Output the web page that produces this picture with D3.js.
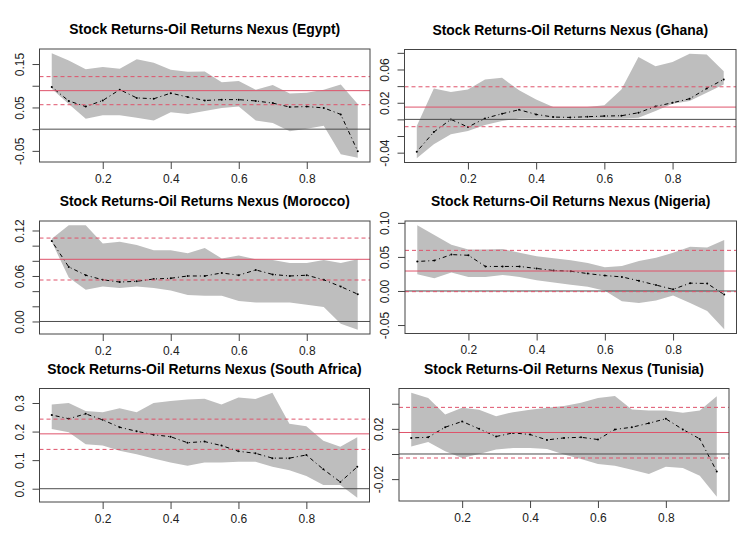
<!DOCTYPE html>
<html>
<head>
<meta charset="utf-8">
<script src="https://cdn.jsdelivr.net/npm/d3@7"></script>
<style>
  body { margin: 0; background: #fff; }
  text { font-family: "Liberation Sans", Arial, sans-serif; }
</style>
</head>
<body>
<div id="chart"></div>
<script>
// quantiles (x axis)
let taus = [0.05, 0.10, 0.15, 0.20, 0.25, 0.30, 0.35, 0.40, 0.45, 0.50,
            0.55, 0.60, 0.65, 0.70, 0.75, 0.80, 0.85, 0.90, 0.95];
let xTicks = [0.2, 0.4, 0.6, 0.8];

// Egypt
let egyptCoef  = [0.097, 0.065, 0.052, 0.066, 0.091, 0.072, 0.070, 0.083, 0.074, 0.066, 0.068, 0.068, 0.065, 0.060, 0.051, 0.052, 0.049, 0.034, -0.051];
let egyptUpper = [0.175, 0.158, 0.138, 0.143, 0.139, 0.161, 0.153, 0.137, 0.132, 0.133, 0.108, 0.111, 0.091, 0.102, 0.082, 0.084, 0.091, 0.103, 0.058];
let egyptLower = [0.093, 0.058, 0.024, 0.032, 0.032, 0.026, 0.020, 0.039, 0.035, 0.042, 0.049, 0.052, 0.020, 0.014, -0.005, 0.001, 0.008, -0.058, -0.066];
let egyptOls   = [0.0887, 0.0563, 0.121];
let egyptTicks = [-0.05, 0, 0.05, 0.10, 0.15];
let egyptLabels = ['-0.05', null, '0.05', null, '0.15'];

// Ghana
let ghanaCoef  = [-0.0388, -0.0152, 0.000, -0.0092, 0.0012, 0.0068, 0.0116, 0.006, 0.0028, 0.0024, 0.0032, 0.004, 0.0044, 0.008, 0.0156, 0.020, 0.0248, 0.0372, 0.048];
let ghanaUpper = [-0.008, 0.037, 0.033, 0.036, 0.048, 0.050, 0.035, 0.024, 0.015, 0.015, 0.015, 0.017, 0.036, 0.075, 0.064, 0.069, 0.079, 0.078, 0.058];
let ghanaLower = [-0.0468, -0.030, -0.018, -0.014, -0.0068, -0.002, 0.0012, 0.0012, 0.0012, 0.0012, 0.0012, 0.0012, 0.0012, 0.002, 0.010, 0.0188, 0.022, 0.032, 0.042];
let ghanaOls   = [0.0148, -0.0088, 0.0392];
let ghanaTicks = [-0.04, -0.02, 0, 0.02, 0.04, 0.06, 0.08];
let ghanaLabels = ['-0.04', null, null, '0.02', null, '0.06', null];

// Morocco
let moroccoCoef  = [0.106, 0.072, 0.061, 0.055, 0.052, 0.053, 0.056, 0.057, 0.060, 0.060, 0.064, 0.061, 0.068, 0.062, 0.060, 0.061, 0.055, 0.046, 0.036];
let moroccoUpper = [0.109, 0.127, 0.127, 0.103, 0.105, 0.101, 0.094, 0.094, 0.090, 0.097, 0.083, 0.087, 0.082, 0.081, 0.077, 0.077, 0.081, 0.077, 0.082];
let moroccoLower = [0.105, 0.058, 0.042, 0.046, 0.044, 0.046, 0.044, 0.041, 0.035, 0.034, 0.034, 0.027, 0.025, 0.025, 0.025, 0.022, 0.019, -0.003, -0.011];
let moroccoOls   = [0.082, 0.0547, 0.110];
let moroccoTicks = [0, 0.02, 0.04, 0.06, 0.08, 0.10, 0.12];
let moroccoLabels = ['0.00', null, null, '0.06', null, null, '0.12'];

// Nigeria
let nigeriaCoef  = [0.0433, 0.0447, 0.0534, 0.0524, 0.036, 0.036, 0.036, 0.033, 0.030, 0.029, 0.0255, 0.0226, 0.0207, 0.0149, 0.0087, 0.0024, 0.0115, 0.011, -0.0053];
let nigeriaUpper = [0.0966, 0.082, 0.068, 0.061, 0.061, 0.0615, 0.056, 0.051, 0.048, 0.045, 0.041, 0.035, 0.0365, 0.044, 0.0486, 0.056, 0.065, 0.064, 0.075];
let nigeriaLower = [0.0245, 0.0188, 0.027, 0.0207, 0.0207, 0.0236, 0.0207, 0.0159, 0.0125, 0.0091, 0.0063, 0.0005, -0.0149, -0.0178, -0.014, -0.0067, -0.0178, -0.0293, -0.0563];
let nigeriaOls   = [0.0293, -0.001, 0.0596];
let nigeriaTicks = [-0.05, 0, 0.05, 0.10];
let nigeriaLabels = ['-0.05', '0.00', '0.05', '0.10'];

// South Africa
let safricaCoef  = [0.258, 0.245, 0.262, 0.241, 0.215, 0.201, 0.189, 0.182, 0.161, 0.165, 0.151, 0.131, 0.124, 0.107, 0.107, 0.118, 0.068, 0.0235, 0.0765];
let safricaUpper = [0.295, 0.300, 0.272, 0.268, 0.282, 0.268, 0.300, 0.307, 0.312, 0.315, 0.295, 0.319, 0.314, 0.336, 0.227, 0.219, 0.168, 0.147, 0.180];
let safricaLower = [0.209, 0.198, 0.156, 0.151, 0.133, 0.121, 0.106, 0.092, 0.080, 0.092, 0.092, 0.094, 0.094, 0.0765, 0.0647, 0.0447, 0.0129, 0.0129, -0.0318];
let safricaOls   = [0.192, 0.1376, 0.2435];
let safricaTicks = [0, 0.1, 0.2, 0.3];
let safricaLabels = ['0.0', '0.1', '0.2', '0.3'];

// Tunisia
let tunisiaCoef  = [0.0128, 0.0133, 0.0213, 0.0259, 0.020, 0.0139, 0.0168, 0.0155, 0.0112, 0.0128, 0.0133, 0.0115, 0.0195, 0.0213, 0.0245, 0.028, 0.0195, 0.012, -0.0139];
let tunisiaUpper = [0.0488, 0.0445, 0.0315, 0.0368, 0.0352, 0.0301, 0.0333, 0.0352, 0.0368, 0.0381, 0.0408, 0.0445, 0.0461, 0.0355, 0.0347, 0.0347, 0.0328, 0.0347, 0.0459];
let tunisiaLower = [0.0059, 0.0096, 0.0021, -0.0032, 0.000, 0.0035, 0.0048, 0.0048, 0.004, -0.0005, -0.004, -0.008, -0.0093, -0.0125, -0.016, -0.0101, -0.0112, -0.0173, -0.0341];
let tunisiaOls   = [0.0171, -0.0032, 0.0371];
let tunisiaTicks = [-0.02, 0, 0.02, 0.04];
let tunisiaLabels = ['-0.02', null, '0.02', null];

let countries = ['Egypt', 'Ghana', 'Morocco', 'Nigeria', 'South Africa', 'Tunisia'];

let panelData = [
    {coef: egyptCoef, upper: egyptUpper, lower: egyptLower, ols: egyptOls, ticks: egyptTicks, labels: egyptLabels},
    {coef: ghanaCoef, upper: ghanaUpper, lower: ghanaLower, ols: ghanaOls, ticks: ghanaTicks, labels: ghanaLabels},
    {coef: moroccoCoef, upper: moroccoUpper, lower: moroccoLower, ols: moroccoOls, ticks: moroccoTicks, labels: moroccoLabels},
    {coef: nigeriaCoef, upper: nigeriaUpper, lower: nigeriaLower, ols: nigeriaOls, ticks: nigeriaTicks, labels: nigeriaLabels},
    {coef: safricaCoef, upper: safricaUpper, lower: safricaLower, ols: safricaOls, ticks: safricaTicks, labels: safricaLabels},
    {coef: tunisiaCoef, upper: tunisiaUpper, lower: tunisiaLower, ols: tunisiaOls, ticks: tunisiaTicks, labels: tunisiaLabels}
];

// plot boxes (pixels) for the 3x2 grid
let boxes = [
    {left: 39.5, right: 370, top: 49, bottom: 162},
    {left: 404.5, right: 736, top: 49.5, bottom: 162.5},
    {left: 39.5, right: 370, top: 221, bottom: 334},
    {left: 405, right: 736.5, top: 221, bottom: 333.5},
    {left: 39.5, right: 369.5, top: 388.5, bottom: 502},
    {left: 399, right: 729, top: 388.5, bottom: 501}
];

let svgWidth = 749;
let svgHeight = 541;

let svg = d3.select('#chart')
    .append('svg')
    .attr('width', svgWidth)
    .attr('height', svgHeight);

// R style 4% axis padding
function padded(lo, hi) {
    let d = (hi - lo) * 0.04;
    return [lo - d, hi + d];
}

panelData.forEach((p, i) => {
    let b = boxes[i];
    let g = svg.append('g');

    let xScale = d3.scaleLinear()
        .domain(padded(d3.min(taus), d3.max(taus)))
        .range([b.left, b.right]);

    let yScale = d3.scaleLinear()
        .domain(padded(d3.min(p.lower), d3.max(p.upper)))
        .range([b.bottom, b.top]);

    // confidence band
    let band = d3.area()
        .x((d, j) => xScale(taus[j]))
        .y0((d, j) => yScale(p.lower[j]))
        .y1((d, j) => yScale(p.upper[j]));

    g.append('path')
        .datum(taus)
        .attr('d', band)
        .attr('fill', '#bebebe');

    // estimates: dots + dot-dash line
    let line = d3.line()
        .x((d, j) => xScale(taus[j]))
        .y(d => yScale(d));

    g.append('path')
        .datum(p.coef)
        .attr('d', line)
        .attr('fill', 'none')
        .attr('stroke', '#000')
        .attr('stroke-width', 1)
        .attr('stroke-dasharray', '1,3,4,3');

    g.selectAll('circle')
        .data(p.coef)
        .enter()
        .append('circle')
        .attr('cx', (d, j) => xScale(taus[j]))
        .attr('cy', d => yScale(d))
        .attr('r', 1)
        .attr('fill', '#000');

    // zero line
    g.append('line')
        .attr('x1', b.left).attr('x2', b.right)
        .attr('y1', yScale(0)).attr('y2', yScale(0))
        .attr('stroke', '#4d4d4d')
        .attr('stroke-width', 1);

    // OLS estimate and its interval
    g.selectAll('.ols')
        .data(p.ols)
        .enter()
        .append('line')
        .attr('class', 'ols')
        .attr('x1', b.left).attr('x2', b.right)
        .attr('y1', d => yScale(d)).attr('y2', d => yScale(d))
        .attr('stroke', '#df536b')
        .attr('stroke-width', 1)
        .attr('stroke-dasharray', (d, j) => j === 0 ? null : '4,3');

    // box
    g.append('rect')
        .attr('x', b.left).attr('y', b.top)
        .attr('width', b.right - b.left).attr('height', b.bottom - b.top)
        .attr('fill', 'none')
        .attr('stroke', '#444')
        .attr('stroke-width', 1);

    // x axis
    let bottomAxis = d3.axisBottom(xScale)
        .tickValues(xTicks)
        .tickFormat(d3.format('.1f'))
        .tickSize(7)
        .tickPadding(5);

    let xAxis = g.append('g')
        .attr('transform', `translate(0, ${b.bottom})`)
        .call(bottomAxis);
    xAxis.select('.domain').remove();
    xAxis.selectAll('line').attr('stroke', '#444');
    xAxis.selectAll('text')
        .attr('fill', '#222')
        .style('font-size', '12px')
        .style('font-family', '"Liberation Sans", Arial, sans-serif');

    // y axis
    let leftAxis = d3.axisLeft(yScale)
        .tickValues(p.ticks)
        .tickFormat((d, j) => p.labels[j] || '')
        .tickSize(7);

    let yAxis = g.append('g')
        .attr('transform', `translate(${b.left}, 0)`)
        .call(leftAxis);
    yAxis.select('.domain').remove();
    yAxis.selectAll('line').attr('stroke', '#444');
    yAxis.selectAll('text')
        .attr('fill', '#222')
        .attr('x', 0).attr('dy', null)
        .attr('text-anchor', 'middle')
        .attr('transform', 'translate(-16, 0) rotate(-90)')
        .style('font-size', '12px')
        .style('font-family', '"Liberation Sans", Arial, sans-serif');

    // title
    g.append('text')
        .attr('x', (b.left + b.right) / 2)
        .attr('y', b.top - 15)
        .attr('text-anchor', 'middle')
        .style('font-size', '13.9px')
        .style('font-weight', 'bold')
        .attr('fill', '#000')
        .text(`Stock Returns-Oil Returns Nexus (${countries[i]})`);
});
</script>
</body>
</html>
